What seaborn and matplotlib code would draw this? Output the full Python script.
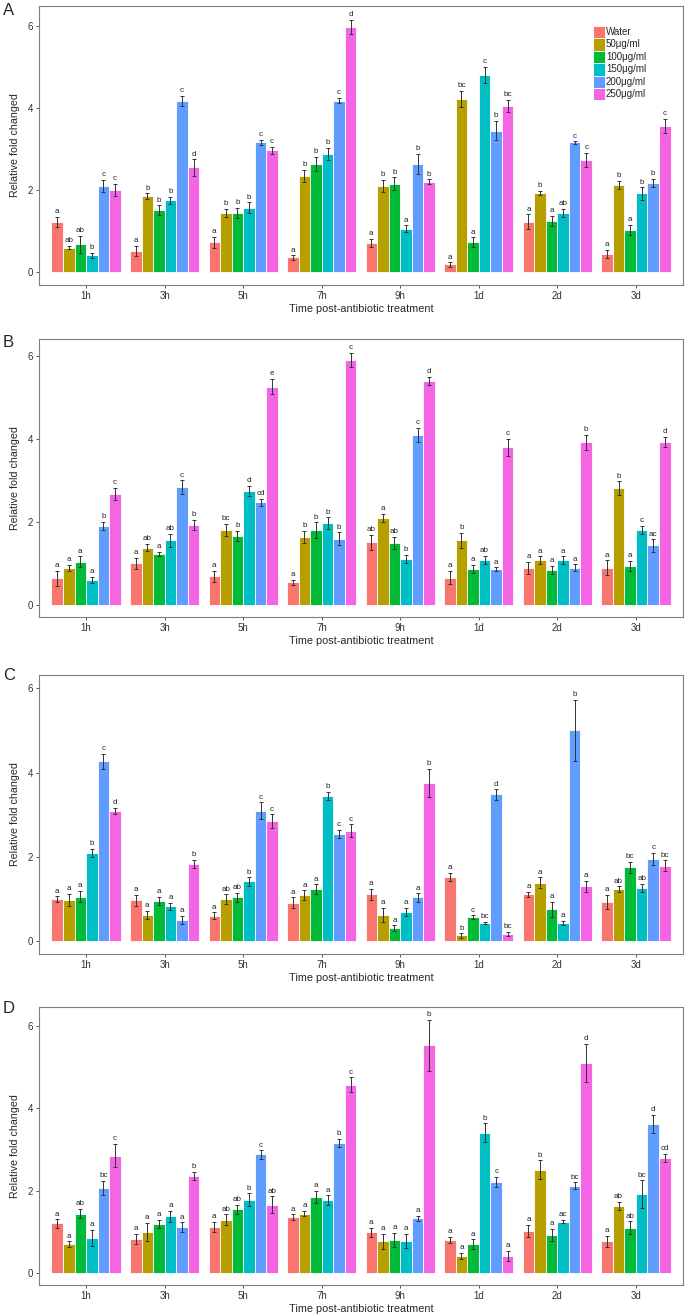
import numpy as np
import pandas as pd
import matplotlib
matplotlib.use("Agg")
import matplotlib.pyplot as plt
import seaborn as sns

##################################################################
# Data
##################################################################
times = ['1h', '3h', '5h', '7h', '9h', '1d', '2d', '3d']
treatments = ['Water', '50\u03bcg/ml', '100\u03bcg/ml', '150\u03bcg/ml', '200\u03bcg/ml', '250\u03bcg/ml']
colors = ['#F8766D', '#B79F00', '#00BA38', '#00BFC4', '#619CFF', '#F564E3']

# rows = treatment, columns = time point
A_mean = [[1.22, 0.52, 0.73, 0.36, 0.72, 0.19, 1.23, 0.45],
          [0.60, 1.85, 1.44, 2.34, 2.10, 4.22, 1.93, 2.13],
          [0.68, 1.51, 1.44, 2.64, 2.16, 0.73, 1.25, 1.03],
          [0.41, 1.75, 1.57, 2.88, 1.06, 4.80, 1.44, 1.92],
          [2.10, 4.17, 3.16, 4.18, 2.64, 3.45, 3.16, 2.17],
          [2.00, 2.55, 2.97, 5.97, 2.20, 4.05, 2.73, 3.57]]
A_err = [[0.13, 0.12, 0.14, 0.05, 0.10, 0.05, 0.18, 0.10],
         [0.04, 0.07, 0.10, 0.15, 0.15, 0.20, 0.05, 0.10],
         [0.20, 0.12, 0.13, 0.17, 0.15, 0.12, 0.12, 0.12],
         [0.06, 0.09, 0.13, 0.15, 0.08, 0.20, 0.10, 0.15],
         [0.15, 0.12, 0.06, 0.07, 0.24, 0.24, 0.03, 0.10],
         [0.15, 0.20, 0.08, 0.17, 0.06, 0.15, 0.18, 0.17]]
A_lab = [['a', 'a', 'a', 'a', 'a', 'a', 'a', 'a'],
         ['ab', 'b', 'b', 'b', 'b', 'bc', 'b', 'b'],
         ['ab', 'b', 'b', 'b', 'b', 'a', 'a', 'a'],
         ['b', 'b', 'b', 'b', 'a', 'c', 'ab', 'b'],
         ['c', 'c', 'c', 'c', 'b', 'b', 'c', 'b'],
         ['c', 'd', 'c', 'd', 'b', 'bc', 'c', 'c']]

B_mean = [[0.64, 1.00, 0.68, 0.54, 1.51, 0.65, 0.89, 0.89],
          [0.88, 1.38, 1.81, 1.64, 2.09, 1.56, 1.07, 2.81],
          [1.04, 1.23, 1.66, 1.80, 1.49, 0.86, 0.84, 0.94],
          [0.59, 1.55, 2.75, 1.97, 1.10, 1.08, 1.07, 1.80],
          [1.90, 2.84, 2.47, 1.59, 4.10, 0.85, 0.89, 1.43],
          [2.67, 1.93, 5.27, 5.92, 5.40, 3.80, 3.92, 3.94]]
B_err = [[0.18, 0.13, 0.13, 0.06, 0.18, 0.16, 0.15, 0.18],
         [0.08, 0.09, 0.14, 0.14, 0.10, 0.18, 0.10, 0.17],
         [0.13, 0.05, 0.13, 0.19, 0.15, 0.10, 0.10, 0.12],
         [0.08, 0.16, 0.12, 0.14, 0.10, 0.10, 0.10, 0.10],
         [0.10, 0.16, 0.08, 0.16, 0.17, 0.05, 0.08, 0.15],
         [0.15, 0.12, 0.18, 0.17, 0.10, 0.20, 0.18, 0.12]]
B_lab = [['a', 'a', 'a', 'a', 'ab', 'a', 'a', 'a'],
         ['a', 'ab', 'bc', 'b', 'a', 'b', 'a', 'b'],
         ['a', 'a', 'b', 'b', 'ab', 'a', 'a', 'a'],
         ['a', 'ab', 'd', 'b', 'b', 'ab', 'a', 'c'],
         ['b', 'c', 'cd', 'b', 'c', 'a', 'a', 'ac'],
         ['c', 'b', 'e', 'c', 'd', 'c', 'b', 'd']]

C_mean = [[1.00, 0.97, 0.61, 0.92, 1.11, 1.53, 1.12, 0.93],
          [0.98, 0.62, 1.00, 1.10, 0.62, 0.14, 1.39, 1.23],
          [1.06, 0.96, 1.04, 1.23, 0.31, 0.58, 0.76, 1.76],
          [2.09, 0.83, 1.42, 3.44, 0.70, 0.43, 0.43, 1.27],
          [4.27, 0.51, 3.09, 2.54, 1.04, 3.48, 5.00, 1.96],
          [3.09, 1.83, 2.85, 2.62, 3.75, 0.17, 1.30, 1.79]]
C_err = [[0.07, 0.13, 0.08, 0.12, 0.14, 0.10, 0.06, 0.17],
         [0.15, 0.10, 0.11, 0.11, 0.17, 0.05, 0.13, 0.07],
         [0.13, 0.10, 0.11, 0.12, 0.07, 0.04, 0.18, 0.13],
         [0.10, 0.09, 0.10, 0.10, 0.10, 0.03, 0.05, 0.10],
         [0.18, 0.10, 0.20, 0.10, 0.10, 0.12, 0.72, 0.14],
         [0.08, 0.10, 0.16, 0.15, 0.33, 0.05, 0.13, 0.13]]
C_lab = [['a', 'a', 'a', 'a', 'a', 'a', 'a', 'a'],
         ['a', 'a', 'ab', 'a', 'a', 'b', 'a', 'ab'],
         ['a', 'a', 'ab', 'a', 'a', 'c', 'a', 'bc'],
         ['b', 'a', 'b', 'b', 'a', 'bc', 'a', 'ab'],
         ['c', 'a', 'c', 'c', 'a', 'd', 'b', 'c'],
         ['d', 'b', 'c', 'c', 'b', 'bc', 'a', 'bc']]

D_mean = [[1.20, 0.82, 1.11, 1.35, 0.98, 0.80, 1.02, 0.76],
          [0.69, 0.99, 1.29, 1.44, 0.76, 0.41, 2.51, 1.63],
          [1.44, 1.18, 1.54, 1.85, 0.80, 0.69, 0.91, 1.09],
          [0.85, 1.37, 1.78, 1.76, 0.77, 3.41, 1.24, 1.91],
          [2.07, 1.11, 2.88, 3.16, 1.33, 2.21, 2.12, 3.63],
          [2.85, 2.35, 1.66, 4.58, 5.54, 0.41, 5.11, 2.79]]
D_err = [[0.10, 0.12, 0.13, 0.07, 0.12, 0.07, 0.15, 0.13],
         [0.07, 0.22, 0.13, 0.07, 0.18, 0.07, 0.23, 0.10],
         [0.12, 0.10, 0.12, 0.15, 0.17, 0.12, 0.15, 0.16],
         [0.20, 0.13, 0.15, 0.12, 0.17, 0.23, 0.04, 0.34],
         [0.17, 0.12, 0.10, 0.10, 0.06, 0.13, 0.08, 0.22],
         [0.28, 0.10, 0.20, 0.18, 0.62, 0.13, 0.46, 0.10]]
D_lab = [['a', 'a', 'a', 'a', 'a', 'a', 'a', 'a'],
         ['a', 'a', 'ab', 'a', 'a', 'a', 'b', 'ab'],
         ['ab', 'a', 'ab', 'a', 'a', 'a', 'a', 'ab'],
         ['a', 'a', 'b', 'a', 'a', 'b', 'ac', 'bc'],
         ['bc', 'a', 'c', 'b', 'a', 'c', 'bc', 'd'],
         ['c', 'b', 'ab', 'c', 'b', 'a', 'd', 'cd']]

panel_names = ['A', 'B', 'C', 'D']
panel_means = [A_mean, B_mean, C_mean, D_mean]
panel_errs = [A_err, B_err, C_err, D_err]
panel_labs = [A_lab, B_lab, C_lab, D_lab]
panel_ylims = [(-0.31, 6.48), (-0.30, 6.42), (-0.30, 6.31), (-0.30, 6.47)]

##################################################################
# Plotting
##################################################################
sns.set_style('white')
plt.rcParams['font.family'] = ['Liberation Sans', 'DejaVu Sans']

W, H = 685, 1314
fig = plt.figure(figsize=(W / 100, H / 100), dpi=100)

# axes boxes in pixels: left, top, right, bottom
boxes = [(39, 6, 683, 285), (39, 339, 683, 617), (39, 675, 683, 954), (39, 1007, 683, 1285)]
label_tops = [3, 335, 668, 1001]

for k, name in enumerate(panel_names):
    l, t, r, b = boxes[k]
    ax = fig.add_axes([l / W, 1 - b / H, (r - l) / W, (b - t) / H])

    df = pd.DataFrame({
        'time': np.tile(times, len(treatments)),
        'treatment': np.repeat(treatments, len(times)),
        'value': np.ravel(panel_means[k]),
    })
    sns.barplot(data=df, x='time', y='value', hue='treatment', order=times,
                hue_order=treatments, palette=colors, saturation=1, width=0.883,
                gap=0, errorbar=None, edgecolor='white', linewidth=0.6,
                legend=(k == 0), ax=ax)

    # error bars and significance letters
    bar_conts = list(ax.containers)
    for j, cont in enumerate(bar_conts):
        for i, bar in enumerate(cont.patches):
            xc = bar.get_x() + bar.get_width() / 2
            h = bar.get_height()
            e = panel_errs[k][j][i]
            ax.errorbar(xc, h, yerr=e, fmt='none', ecolor='#333333',
                        elinewidth=0.7, capsize=1.2, capthick=0.7)
            ax.annotate(panel_labs[k][j][i], (xc, h + e), xytext=(0, 1.2),
                        textcoords='offset points', ha='center', va='bottom',
                        fontsize=5.8, color='#222222')

    ax.set_xlim(-0.6, 7.6)
    ax.set_ylim(*panel_ylims[k])
    ax.set_yticks([0, 2, 4, 6])
    ax.set_yticklabels(['0', '2', '4', '6'])
    ax.tick_params(axis='both', which='major', length=2.5, width=0.7,
                   color='#555555', labelsize=7, labelcolor='#333333', pad=2,
                   left=True, bottom=True)
    for sp in ax.spines.values():
        sp.set_color('#7f7f7f')
        sp.set_linewidth(0.8)
    ax.set_xlabel('Time post-antibiotic treatment', fontsize=7.8, labelpad=2)
    ax.set_ylabel('Relative fold changed', fontsize=7.7, labelpad=5)

    if k == 0:
        handles, labels = ax.get_legend_handles_labels()
        ax.legend(handles, labels, loc='upper left', bbox_to_anchor=(0.860, 0.930),
                  frameon=False, fontsize=7, handlelength=1.2, handleheight=1.6,
                  labelspacing=0, handletextpad=0.15, borderpad=0, borderaxespad=0)

    fig.text(3 / W, 1 - label_tops[k] / H, name, fontsize=12, ha='left', va='top')

plt.savefig('out.png', dpi=100)
